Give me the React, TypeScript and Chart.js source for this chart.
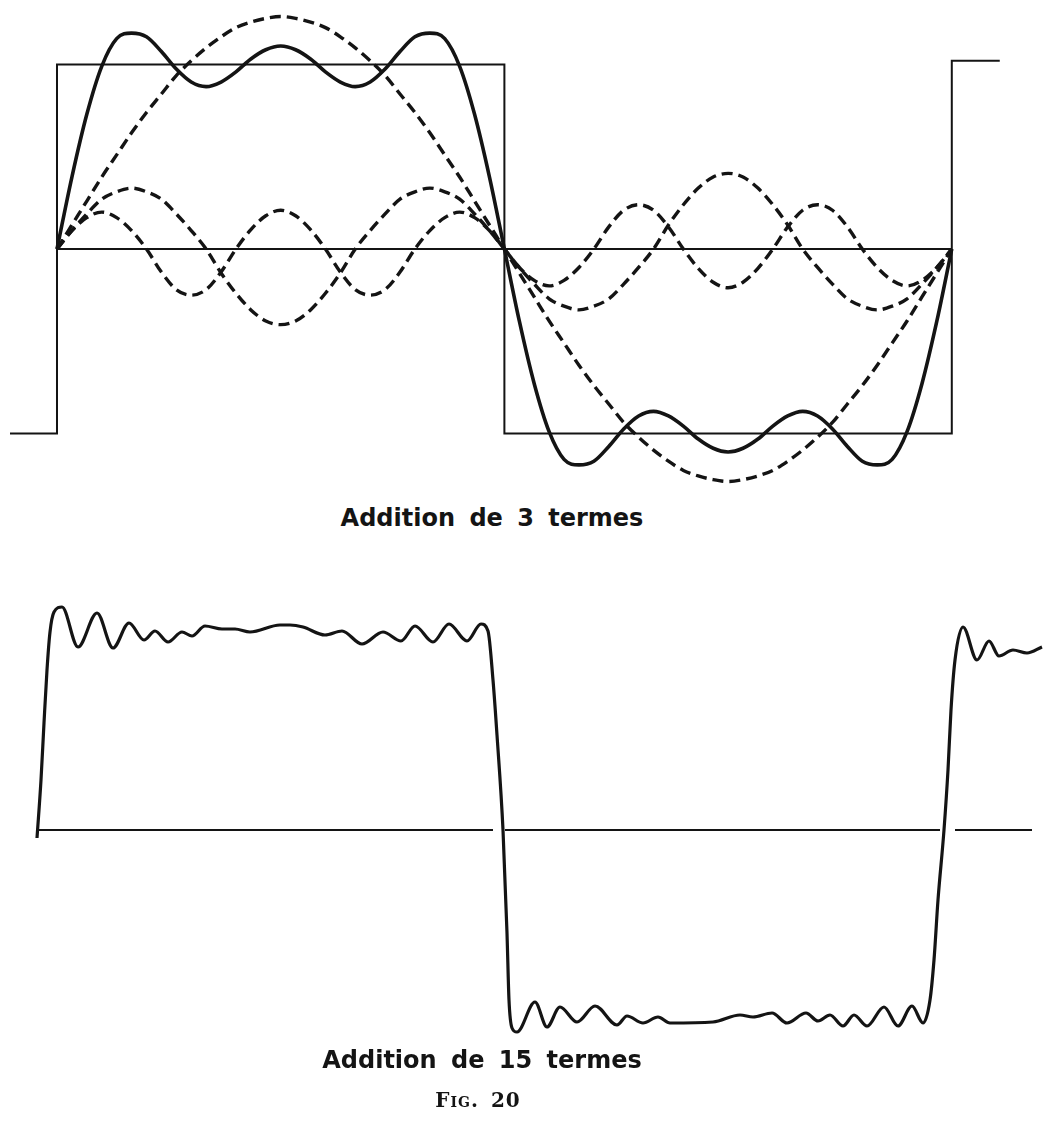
import React, { useEffect, useRef } from "react";
import { Chart, registerables } from "chart.js";

Chart.register(...registerables);

// ---------- Figure 1 : addition de 3 termes (phase in degrees) ----------
const PHASE_3 = [
  0, 6, 12, 18, 24, 30, 36, 42, 48, 54, 60, 66, 72, 78, 84, 90, 96, 102, 108, 114, 120,
  126, 132, 138, 144, 150, 156, 162, 168, 174, 180, 186, 192, 198, 204, 210, 216, 222,
  228, 234, 240, 246, 252, 258, 264, 270, 276, 282, 288, 294, 300, 306, 312, 318, 324,
  330, 336, 342, 348, 354, 360,
];

// fundamental (dashed)
const TERM_1 = [
  0, 0.13, 0.26, 0.39, 0.51, 0.63, 0.74, 0.84, 0.94, 1.02, 1.09, 1.15, 1.2, 1.23, 1.25, 1.26,
  1.25, 1.23, 1.2, 1.15, 1.09, 1.02, 0.94, 0.84, 0.74, 0.63, 0.51, 0.39, 0.26, 0.13, 0,
  -0.13, -0.26, -0.39, -0.51, -0.63, -0.74, -0.84, -0.94, -1.02, -1.09, -1.15, -1.2, -1.23,
  -1.25, -1.26, -1.25, -1.23, -1.2, -1.15, -1.09, -1.02, -0.94, -0.84, -0.74, -0.63, -0.51,
  -0.39, -0.26, -0.13, 0,
];

// third harmonic (dashed)
const TERM_3 = [
  0, 0.1, 0.19, 0.27, 0.31, 0.33, 0.31, 0.27, 0.19, 0.1, 0,
  -0.13, -0.24, -0.33, -0.39, -0.41, -0.39, -0.33, -0.24, -0.13, 0,
  0.1, 0.19, 0.27, 0.31, 0.33, 0.31, 0.27, 0.19, 0.1, 0,
  -0.1, -0.19, -0.27, -0.31, -0.33, -0.31, -0.27, -0.19, -0.1, 0,
  0.13, 0.24, 0.33, 0.39, 0.41, 0.39, 0.33, 0.24, 0.13, 0,
  -0.1, -0.19, -0.27, -0.31, -0.33, -0.31, -0.27, -0.19, -0.1, 0,
];

// fifth harmonic (dashed)
const TERM_5 = [
  0, 0.1, 0.17, 0.2, 0.17, 0.1, 0,
  -0.125, -0.22, -0.25, -0.22, -0.125, 0,
  0.105, 0.18, 0.21, 0.18, 0.105, 0,
  -0.125, -0.22, -0.25, -0.22, -0.125, 0,
  0.1, 0.17, 0.2, 0.17, 0.1, 0,
  -0.1, -0.17, -0.2, -0.17, -0.1, 0,
  0.12, 0.21, 0.24, 0.21, 0.12, 0,
  -0.105, -0.18, -0.21, -0.18, -0.105, 0,
  0.12, 0.21, 0.24, 0.21, 0.12, 0,
  -0.1, -0.17, -0.2, -0.17, -0.1, 0,
];

// sum of the 3 terms (solid)
const SUM_3 = [
  0, 0.39, 0.73, 0.99, 1.14, 1.17, 1.15, 1.07, 0.975, 0.905, 0.88, 0.905, 0.96, 1.03, 1.08,
  1.1, 1.08, 1.03, 0.96, 0.905, 0.88, 0.905, 0.975, 1.07, 1.15, 1.17, 1.14, 0.99, 0.73, 0.39,
  0, -0.39, -0.73, -0.99, -1.14, -1.17, -1.15, -1.07, -0.975, -0.905, -0.88, -0.905, -0.96,
  -1.03, -1.08, -1.1, -1.08, -1.03, -0.96, -0.905, -0.88, -0.905, -0.975, -1.07, -1.15, -1.17,
  -1.14, -0.99, -0.73, -0.39, 0,
];

// square wave
const SQUARE_X = [-18.9, 0, 0, 180, 180, 360, 360, 379.3];
const SQUARE_Y = [-1, -1, 1, 1, -1, -1, 1.02, 1.02];
const AXIS_3 = [0, 360];

// ---------- Figure 2 : addition de 15 termes ----------
const PHASE_15 = [
  -0.4, 1.2, 2.4, 3.6, 4.8, 6.4, 9.6, 16.0, 23.6, 30.0, 36.4, 42.4, 46.8, 52.0, 57.6, 61.6,
  66.8, 73.6, 78.8, 84.8, 96.8, 100.8, 106.0, 114.8, 121.6, 129.6, 138.0, 145.2, 150.8,
  158.0, 164.4, 171.6, 177.2, 180.0, 182.0, 183.6, 186.0, 187.6, 188.4, 189.6, 191.6, 198.8,
  203.6, 208.8, 215.6, 222.8, 231.6, 235.6, 242.0, 248.0, 252.8, 270.0, 280.8, 286.0, 293.6,
  299.6, 307.2, 312.0, 316.8, 322.0, 326.4, 331.6, 338.4, 344.0, 349.6, 354.0, 356.8, 358.4,
  360.0, 362.4, 364.0, 365.2, 366.8, 370.0, 375.6, 380.4, 384.4, 390.0, 395.6, 401.6,
];
const SUM_15 = [
  -0.04, 0.25, 0.535, 0.8, 0.99, 1.09, 1.115, 0.915, 1.085, 0.91, 1.035, 0.95, 0.995, 0.94,
  0.99, 0.97, 1.02, 1.005, 1.005, 0.99, 1.025, 1.025, 1.015, 0.975, 0.995, 0.93, 0.99, 0.945,
  1.02, 0.94, 1.03, 0.945, 1.03, 0.995, 0.75, 0.475, 0, -0.515, -0.85, -0.99, -1.01, -0.86,
  -0.985, -0.885, -0.96, -0.88, -0.975, -0.93, -0.965, -0.935, -0.965, -0.96, -0.925, -0.935,
  -0.915, -0.965, -0.915, -0.955, -0.925, -0.98, -0.925, -0.98, -0.885, -0.98, -0.88, -0.965,
  -0.85, -0.65, -0.35, 0, 0.3, 0.6, 0.85, 1.015, 0.85, 0.945, 0.87, 0.9, 0.885, 0.915,
];
const AXIS_15 = [
  [-0.4, 182],
  [186.8, 360.8],
  [366.8, 397.6],
];

const INK = "#141414";

function pts(xs: number[], ys: number[]) {
  return xs.map((x, i) => ({ x, y: ys[i] }));
}

function baseOptions(xmin: number, xmax: number, ymin: number, ymax: number): any {
  return {
    animation: false,
    responsive: false,
    maintainAspectRatio: false,
    events: [],
    layout: { padding: 0 },
    plugins: {
      legend: { display: false },
      tooltip: { enabled: false },
      title: { display: false },
    },
    elements: { point: { radius: 0 } },
    scales: {
      x: { type: "linear", display: false, min: xmin, max: xmax },
      y: { type: "linear", display: false, min: ymin, max: ymax },
    },
  };
}

export default function App() {
  const topRef = useRef<HTMLCanvasElement | null>(null);
  const botRef = useRef<HTMLCanvasElement | null>(null);

  useEffect(() => {
    const charts: Chart[] = [];
    if (topRef.current) {
      const dashed = {
        borderColor: INK,
        borderWidth: 3.4,
        borderDash: [11, 6],
        cubicInterpolationMode: "monotone" as const,
        fill: false,
        clip: false,
      };
      charts.push(
        new Chart(topRef.current, {
          type: "line",
          data: {
            datasets: [
              {
                label: "carré",
                data: pts(SQUARE_X, SQUARE_Y),
                borderColor: INK,
                borderWidth: 2,
                tension: 0,
                fill: false,
                clip: false,
              } as any,
              {
                label: "axe",
                data: pts(AXIS_3, [0, 0]),
                borderColor: INK,
                borderWidth: 2,
                tension: 0,
                fill: false,
              },
              { label: "terme 1", data: pts(PHASE_3, TERM_1), ...dashed } as any,
              { label: "terme 3", data: pts(PHASE_3, TERM_3), ...dashed } as any,
              { label: "terme 5", data: pts(PHASE_3, TERM_5), ...dashed } as any,
              {
                label: "somme",
                data: pts(PHASE_3, SUM_3),
                borderColor: INK,
                borderWidth: 3.6,
                cubicInterpolationMode: "monotone",
                fill: false,
                clip: false,
              } as any,
            ],
          },
          options: baseOptions(-22.93, 397.5, -1.3604, 1.3496),
        })
      );
    }
    if (botRef.current) {
      const axisData: any[] = [];
      AXIS_15.forEach((seg, i) => {
        if (i > 0) axisData.push({ x: (AXIS_15[i - 1][1] + seg[0]) / 2, y: null });
        axisData.push({ x: seg[0], y: 0 }, { x: seg[1], y: 0 });
      });
      charts.push(
        new Chart(botRef.current, {
          type: "line",
          data: {
            datasets: [
              {
                label: "axe",
                data: axisData,
                borderColor: INK,
                borderWidth: 2,
                tension: 0,
                spanGaps: false,
                fill: false,
              } as any,
              {
                label: "somme 15",
                data: pts(PHASE_15, SUM_15),
                borderColor: INK,
                borderWidth: 3.2,
                cubicInterpolationMode: "monotone",
                fill: false,
                clip: false,
              } as any,
            ],
          },
          options: baseOptions(-15.2, 402.8, -1.1, 1.25),
        })
      );
    }
    return () => charts.forEach((c) => c.destroy());
  }, []);

  const caption: React.CSSProperties = {
    position: "absolute",
    width: 600,
    textAlign: "center",
    fontFamily: "'DejaVu Sans', sans-serif",
    fontWeight: "bold",
    fontSize: 24,
    lineHeight: "24px",
    wordSpacing: 6,
    color: INK,
    whiteSpace: "nowrap",
  };

  return (
    <div
      style={{
        position: "absolute",
        left: 0,
        top: 0,
        width: 1045,
        height: 1130,
        background: "#fff",
        overflow: "hidden",
      }}
    >
      <canvas
        ref={topRef}
        width={1045}
        height={500}
        style={{ position: "absolute", left: 0, top: 0, width: 1045, height: 500 }}
      />
      <canvas
        ref={botRef}
        width={1045}
        height={470}
        style={{ position: "absolute", left: 0, top: 580, width: 1045, height: 470 }}
      />
      <div style={{ ...caption, left: 492 - 300, top: 506 }}>Addition de 3 termes</div>
      <div style={{ ...caption, left: 482 - 300, top: 1048 }}>Addition de 15 termes</div>
      <div
        style={{
          ...caption,
          left: 478 - 300,
          top: 1090,
          fontFamily: "'DejaVu Serif', serif",
          fontVariant: "small-caps",
          fontSize: 20,
          lineHeight: "20px",
          letterSpacing: 1,
          wordSpacing: 4,
        }}
      >
        Fig. 20
      </div>
    </div>
  );
}
